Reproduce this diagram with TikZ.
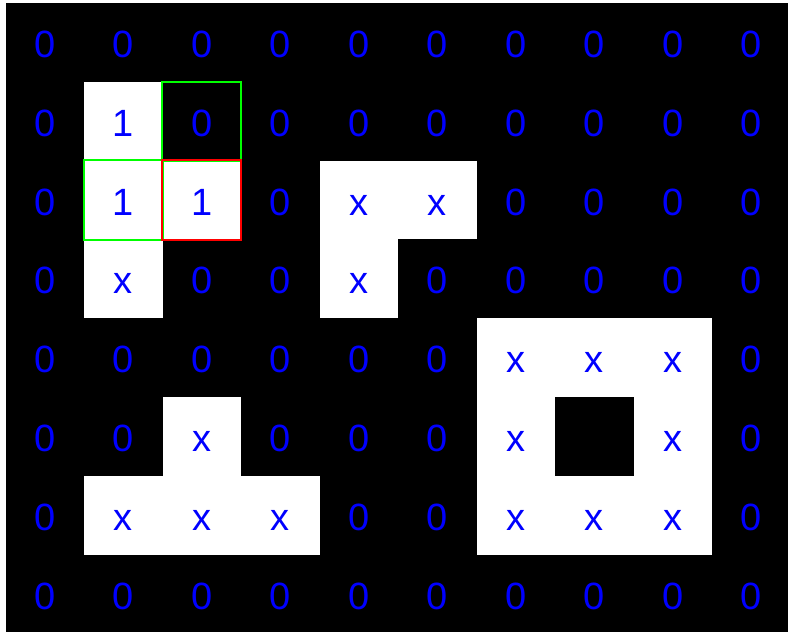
\documentclass[tikz,border=0pt]{standalone}
\usepackage{fontspec}
\setmainfont{Liberation Sans}
\definecolor{numblue}{RGB}{0,0,255}
\definecolor{boxgreen}{RGB}{0,255,0}
\definecolor{boxred}{RGB}{255,0,0}
\begin{document}
\begin{tikzpicture}[x=1pt,y=-1pt,
  cell/.style={rectangle, inner sep=0pt, minimum width=78.5pt, minimum height=78.8pt,
    text=numblue, text height=30pt, text depth=0pt, font=\fontsize{38}{38}\selectfont},
  f-k/.style={},
  f-w/.style={fill=white},
  gbox/.style={draw=boxgreen, line width=2pt},
  rbox/.style={draw=boxred, line width=2pt}]
\fill[white] (0,0) rectangle (788,632);
\useasboundingbox (0,0) rectangle (788,632);
\fill[black] (5.5,3) rectangle (788,632);
\foreach \row [count=\r from 0] in {
  {0/k,0/k,0/k,0/k,0/k,0/k,0/k,0/k,0/k,0/k},
  {0/k,1/w,0/k,0/k,0/k,0/k,0/k,0/k,0/k,0/k},
  {0/k,1/w,1/w,0/k,x/w,x/w,0/k,0/k,0/k,0/k},
  {0/k,x/w,0/k,0/k,x/w,0/k,0/k,0/k,0/k,0/k},
  {0/k,0/k,0/k,0/k,0/k,0/k,x/w,x/w,x/w,0/k},
  {0/k,0/k,x/w,0/k,0/k,0/k,x/w,/k,x/w,0/k},
  {0/k,x/w,x/w,x/w,0/k,0/k,x/w,x/w,x/w,0/k},
  {0/k,0/k,0/k,0/k,0/k,0/k,0/k,0/k,0/k,0/k}}{
  \foreach \t/\f [count=\c from 0] in \row {
    \node[cell, f-\f] (n-\r-\c) at ({44.75+78.5*\c},{42.4+78.8*\r}) {\t};
  }
}
\draw[gbox] (n-1-2.north west) rectangle (n-1-2.south east);
\draw[gbox] (n-2-1.north west) rectangle (n-2-1.south east);
\draw[rbox] (n-2-2.north west) rectangle (n-2-2.south east);
\end{tikzpicture}
\end{document}
